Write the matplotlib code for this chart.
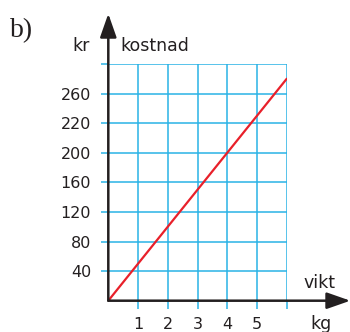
"""
kostnad_vikt.py

Linjediagram: kostnad (kr) mot vikt (kg), med rutnät och pilaxlar.
"""

import matplotlib
matplotlib.use("Agg")
import matplotlib.pyplot as plt

# Data
vikt = [0, 6]            # kg
kostnad = [0, 300]       # kr

x_ticks = [1, 2, 3, 4, 5, 6]
x_labels = ["1", "2", "3", "4", "5", ""]
y_ticks = [40, 80, 120, 160, 200, 240, 280, 320]
y_labels = ["40", "80", "120", "160", "200", "220", "260", ""]

BLUE = "#29b3e6"
RED = "#e8202a"
DARK = "#231f20"
FONT = "DejaVu Sans"

W, H = 350, 332
fig = plt.figure(figsize=(W / 100, H / 100), dpi=100)
ax = fig.add_axes([108.3 / W, 31.3 / H, 178.4 / W, 236.7 / H])

ax.set_xlim(0, 6)
ax.set_ylim(0, 320)

# grid + ticks that stick out past the axes
ax.set_xticks(x_ticks, x_labels)
ax.set_yticks(y_ticks, y_labels)
ax.grid(True, color=BLUE, lw=1.1)
ax.tick_params(axis="x", length=5.5, width=1.1, color=BLUE, pad=6,
               labelsize=11.5, labelcolor=DARK)
ax.tick_params(axis="y", length=4.8, width=1.1, color=BLUE, pad=7.5,
               labelsize=11.5, labelcolor=DARK)
for lab in ax.get_xticklabels() + ax.get_yticklabels():
    lab.set_fontfamily(FONT)
for s in ax.spines.values():
    s.set_visible(False)

# the line
ax.plot(vikt, kostnad, color=RED, lw=1.6, solid_capstyle="round", zorder=3)

# arrow axes
arrow = dict(arrowstyle="-|>,head_length=1.2,head_width=0.42",
             color=DARK, lw=1.8, mutation_scale=12, shrinkA=0, shrinkB=0)
ax.annotate("", xy=(0, 388), xytext=(0, 0), arrowprops=arrow,
            annotation_clip=False, zorder=4)
ax.annotate("", xy=(8.14, 0), xytext=(0, 0), arrowprops=arrow,
            annotation_clip=False, zorder=4)

# axis texts
ax.text(-0.62, 337, "kr", ha="right", va="baseline", fontsize=12.5,
        family=FONT, color=DARK, clip_on=False)
ax.text(0.40, 337, "kostnad", ha="left", va="baseline", fontsize=12.5,
        family=FONT, color=DARK, clip_on=False)
ax.text(6.58, 17, "vikt", ha="left", va="baseline", fontsize=12.5,
        family=FONT, color=DARK, clip_on=False)
ax.text(6.78, -38, "kg", ha="left", va="baseline", fontsize=12.5,
        family=FONT, color=DARK, clip_on=False)

fig.text(10 / W, 1 - 37 / H, "b)", ha="left", va="baseline", fontsize=20,
         family="Liberation Serif", color=DARK)

fig.savefig("out.png", dpi=100)
